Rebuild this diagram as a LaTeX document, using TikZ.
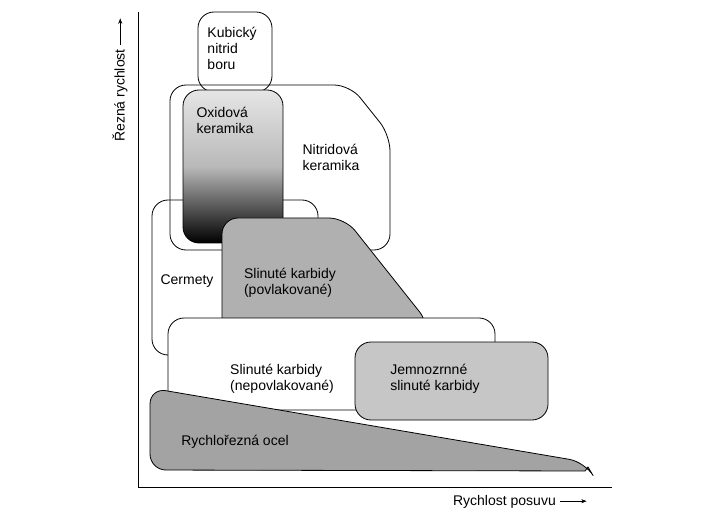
\documentclass[tikz,border=0pt]{standalone}
\usepackage{fontspec}
\setmainfont{Liberation Sans}
\usetikzlibrary{arrows.meta}
\tikzset{
  area/.style={draw=black, line width=0.6pt, rounded corners=12pt},
  lbl/.style={align=left, font=\fontsize{10.5}{12}\selectfont, inner sep=0pt},
  axis/.style={line width=0.7pt}
}
\begin{document}
\begin{tikzpicture}[x=0.75pt, y=-0.75pt]
\useasboundingbox (0,0) rectangle (726,517);
% axes
\coordinate (o) at (138,487);
\coordinate (ytop) at (138,12);
\coordinate (xend) at (612,487);
\draw[axis] (ytop) -- (o) -- (xend);
\node[lbl, rotate=90] (ylab) at (120,80) {Řezná rychlost \tikz[baseline=-0.6ex]\draw[-{Stealth[length=4pt]}] (0,0) -- (20pt,0);};
\node[lbl] (xlab) at (520,502) {Rychlost posuvu \tikz[baseline=-0.6ex]\draw[-{Stealth[length=4pt]}] (0,0) -- (20pt,0);};
% areas
\draw[area, fill=white] (198,12) rectangle (272,92);
\node[lbl, align=left] (cbn) at (232,48) {Kubický\\nitrid\\boru};
\draw[area] (170,85) -- (350,85) -- (390,135) -- (390,250) -- (170,250) -- cycle;
\node[lbl] (nit) at (331,157) {Nitridová\\keramika};
\draw[area] (152,200) -- (318,200) -- (318,355) -- (152,355) -- cycle;
\node[lbl] (cer) at (187,281) {Cermety};
\draw[area, top color=gray!20, bottom color=black, middle color=gray!55] (183,90) rectangle (283,243);
\node[lbl] (oxi) at (225,120) {Oxidová\\keramika};
\draw[area, fill=gray!62] (222,218) -- (345,218) -- (430,325) -- (418,347) -- (222,347) -- cycle;
\node[lbl] (pov) at (290,283) {Slinuté karbidy\\(povlakované)};
\draw[area, fill=white] (168,318) rectangle (495,410);
\node[lbl] (nep) at (282,379) {Slinuté karbidy\\(nepovlakované)};
\draw[area, fill=gray!45] (355,342) rectangle (548,420);
\node[lbl] (jem) at (435,379) {Jemnozrnné\\slinuté karbidy};
\draw[area, fill=gray!72] (150,470) -- (150,388) -- (585,462) [sharp corners] -- (588,467) -- (585,471) [rounded corners=12pt] -- cycle;
\node[lbl] (ocel) at (235,442) {Rychlořezná ocel};
\end{tikzpicture}
\end{document}
